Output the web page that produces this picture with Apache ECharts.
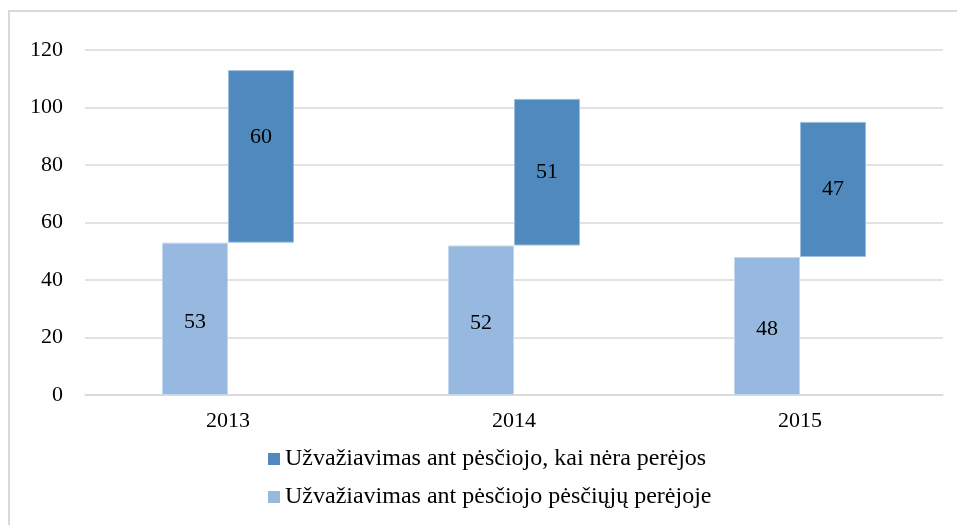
<!DOCTYPE html>
<html>
<head>
<meta charset="utf-8">
<script src="https://cdn.jsdelivr.net/npm/echarts@6/dist/echarts.min.js"></script>
<style>
  html, body { margin: 0; padding: 0; background: #fff; }
  #chart { width: 957px; height: 525px; }
</style>
</head>
<body>
<div id="chart"></div>
<script>
// Years on the category axis
const years = ['2013', '2014', '2015'];
// Collisions at pedestrian crossings (light bars, from zero)
const atCrossing = [53, 52, 48];
// Collisions where there is no crossing (dark bars, floating on top of the light ones)
const noCrossing = [60, 51, 47];
// Value axis ticks
const yTicks = [0, 20, 40, 60, 80, 100, 120];

const nameNo = 'Užvažiavimas ant pėsčiojo, kai nėra perėjos';
const nameAt = 'Užvažiavimas ant pėsčiojo pėsčiųjų perėjoje';

const serif = '"Liberation Serif", "DejaVu Serif", serif';
const chart = echarts.init(document.getElementById('chart'), null, { renderer: 'canvas' });

const labelStyle = { show: true, position: 'inside', fontFamily: serif, fontSize: 22, color: '#000' };

chart.setOption({
  animation: false,
  backgroundColor: '#fff',
  graphic: [{
    type: 'polyline',
    shape: { points: [[9, 525], [9, 11], [957, 11]] },
    style: { stroke: '#d9d9d9', lineWidth: 2, fill: null },
    silent: true
  }],
  grid: { left: 85, right: 14, top: 50, bottom: 130, containLabel: false },
  legend: {
    data: [nameNo, nameAt],
    orient: 'vertical',
    left: 263,
    top: 442,
    itemWidth: 12,
    itemHeight: 12,
    itemGap: 14,
    icon: 'rect',
    itemStyle: { borderWidth: 0 },
    textStyle: { fontFamily: serif, fontSize: 24, color: '#000' }
  },
  xAxis: {
    type: 'category',
    data: years,
    axisLine: { lineStyle: { color: '#d9d9d9', width: 1.5 } },
    axisTick: { show: false },
    axisLabel: { fontFamily: serif, fontSize: 22, color: '#000', margin: 15 }
  },
  yAxis: {
    type: 'value',
    min: yTicks[0],
    max: yTicks[yTicks.length - 1],
    interval: 20,
    axisLine: { show: false },
    axisTick: { show: false },
    splitLine: { lineStyle: { color: '#d9d9d9', width: 1.5 } },
    axisLabel: { fontFamily: serif, fontSize: 22, color: '#000', margin: 22 }
  },
  series: [
    {
      name: nameAt,
      type: 'bar',
      stack: 'at',
      data: atCrossing,
      barWidth: 66,
      barGap: '0%',
      itemStyle: { color: '#98b9df', borderColor: '#c5d7ee', borderWidth: 1 },
      label: Object.assign({}, labelStyle, { offset: [0, 3] })
    },
    {
      name: 'base',
      type: 'bar',
      stack: 'no',
      data: atCrossing,
      barWidth: 66,
      barGap: '0%',
      itemStyle: { color: 'transparent' },
      emphasis: { disabled: true },
      silent: true,
      label: { show: false }
    },
    {
      name: nameNo,
      type: 'bar',
      stack: 'no',
      // the first label sits a little above the middle of its bar
      data: noCrossing.map((v, i) => i === 0 ? { value: v, label: { offset: [0, -19] } } : v),
      barWidth: 66,
      barGap: '0%',
      itemStyle: { color: '#4f89bd', borderColor: '#9dbddc', borderWidth: 1 },
      label: labelStyle
    }
  ]
});
</script>
</body>
</html>
